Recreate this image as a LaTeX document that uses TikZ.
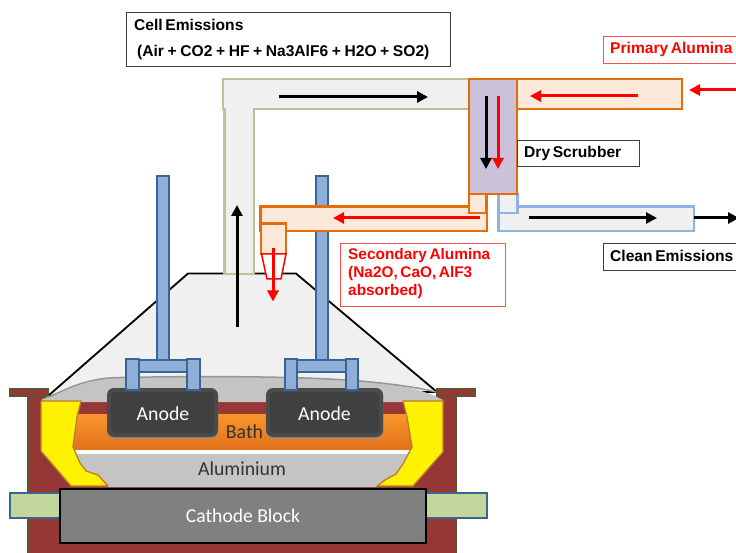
\documentclass[tikz,border=0pt]{standalone}
\usepackage{fontspec}
\setmainfont[WordSpace=0.6]{Liberation Sans}
\newfontfamily\calib{Carlito}
\usetikzlibrary{arrows.meta,shadings}
\definecolor{wallred}{HTML}{953735}
\definecolor{wallline}{HTML}{5F5230}
\definecolor{hoodfill}{HTML}{F0F0F0}
\definecolor{crustgray}{HTML}{C4C4C4}
\definecolor{crustline}{HTML}{969696}
\definecolor{rodblue}{HTML}{8FAFD8}
\definecolor{rodline}{HTML}{3A6396}
\definecolor{collgreen}{HTML}{C3D69B}
\definecolor{ductorange}{HTML}{E46C0A}
\definecolor{ductpeach}{HTML}{FDE9D9}
\definecolor{ductbeige}{HTML}{C4BD97}
\definecolor{ductblue}{HTML}{8DB3E2}
\definecolor{scrubfill}{HTML}{CCC1DA}
\definecolor{yellowline}{HTML}{C07A30}
\definecolor{labelred}{HTML}{FF5050}
\definecolor{bathtop}{HTML}{F9962C}
\definecolor{bathbot}{HTML}{E1701A}
\tikzset{
  x=1pt,y=-1pt,
  wallshape/.style={fill=wallred,draw=wallline,line width=1.6pt},
  rod/.style={fill=rodblue,draw=rodline,line width=2pt},
  collector/.style={fill=collgreen,draw=rodline,line width=1.8pt},
  frozen/.style={fill=yellow,draw=yellowline,line width=1.3pt,line join=round},
  ductB/.style={fill=hoodfill,draw=ductbeige,line width=2.2pt},
  ductO/.style={fill=ductpeach,draw=ductorange,line width=2.2pt},
  ductL/.style={fill=hoodfill,draw=ductblue,line width=2.2pt},
  flowK/.style={draw=black,line width=3pt,-{Triangle[length=11pt,width=11pt]}},
  flowR/.style={draw=red,line width=3pt,-{Triangle[length=11pt,width=11pt]}},
  txt/.style={anchor=west,inner sep=0pt,font=\bfseries\fontsize{15.6}{18}\selectfont},
  blackbox/.style={draw=black!75,line width=.9pt,fill=white,anchor=north west,inner sep=0pt},
  redbox/.style={draw=labelred,line width=.9pt,fill=white,anchor=north west,inner sep=0pt},
  lay/.style={text=black!80,font=\calib\fontsize{19.8}{22}\selectfont},
  anodetxt/.style={text=white,font=\calib\fontsize{19.8}{22}\selectfont},
}
\begin{document}
\begin{tikzpicture}
\useasboundingbox (0,0) rectangle (736,553);
% hood
\draw[fill=hoodfill,draw=black,line width=1.8pt] (48,396) -- (188,273.5) -- (296,273.5) -- (437,392) -- cycle;
% cell wall
\path[wallshape] (28,553) -- (28,396) -- (48,396) -- (48,400) -- (437,400) -- (437,396) -- (456,396) -- (456,553);
\draw[wallshape] (10,389) rectangle (48,396);
\draw[wallshape] (437,389) rectangle (475,396);
% collectors
\draw[collector] (10,493) rectangle (60,518);
\draw[collector] (426,493) rectangle (487,518);
% crust
\draw[fill=crustgray,draw=none] (42,399) .. controls (60,396) and (80,378) .. (120,377.5) .. controls (200,376) and (300,376) .. (360,381) .. controls (395,384) and (420,388) .. (443,400) -- (443,402) -- (42,402) -- cycle;
\draw[crustline,line width=1.5pt] (46,397.5) .. controls (62,393) and (80,378) .. (120,377.5) .. controls (200,376) and (300,376) .. (360,381) .. controls (395,384) and (420,388) .. (436,392);
% bath
\shade[top color=bathtop,bottom color=bathbot] (74,414) rectangle (411,450);
\fill[white] (73,450) rectangle (412,454);
% aluminium
\fill[crustgray] (74,454) -- (411,454) -- (405,463) -- (396,474) -- (384,480) -- (376,487) -- (108,487) -- (100,478) -- (88,472) -- (80,465) -- cycle;
% frozen ledges
\draw[frozen] (41,401) -- (81,401) -- (77,417) -- (73,447) -- (80,463) -- (86,471) -- (98,475) -- (108,486) -- (71,486) -- (41,451) -- cycle;
\draw[frozen] (403,401) -- (443,401) -- (443,452) -- (413,486) -- (377,486) -- (385,480) -- (396,474) -- (403,464) -- (412,447) -- (407,417) -- cycle;
% cathode
\node[draw=black,line width=2pt,fill=black!50,minimum width=366pt,minimum height=54pt,inner sep=0pt,anchor=north west,text=white,font=\calib\fontsize{19.6}{22}\selectfont] (cathode) at (59,487.5) {Cathode Block};
\node[lay] (alu) at (242,469) {Aluminium};
\node[lay] (bath) at (244.5,432) {Bath};
% anodes
\foreach \n/\xa/\xb in {A/107/218,B/266/383}{
  \fill[black!45,rounded corners=7pt] (\xa,389) rectangle (\xb,438.5);
  \fill[black!71,rounded corners=7pt] (\xa,388) rectangle (\xb,437);
  \fill[black!75,rounded corners=4pt] (\xa+4,392) rectangle (\xb-4,433);
}
\node[anodetxt] (anodeA) at (163,414) {Anode};
\node[anodetxt] (anodeB) at (324.5,414) {Anode};
% rods and yokes
\draw[rod] (156.5,176.5) rectangle (169,360);
\draw[rod] (316,176.5) rectangle (328,360);
\foreach \a/\b in {126/199.5,284.5/358}{
  \draw[rod] (\a+6,360) rectangle (\b-6,372);
  \draw[rod] (\a,359) rectangle (\a+12.5,390);
  \draw[rod] (\b-12.5,359) rectangle (\b,390);
}
% beige duct
\draw[ductB] (224.5,109) rectangle (254,274);
\draw[ductB] (223,79) rectangle (469,109);
\fill[hoodfill] (226,106) rectangle (253,112);
% blue duct
\draw[ductL] (498.5,206.5) rectangle (694,231);
\draw[ductL] (498.5,194) rectangle (517.5,213);
% orange ducts
\draw[ductO] (517,79) rectangle (682,109);
\draw[ductO] (260.5,206.5) rectangle (487,231);
\draw[ductO] (469,194) rectangle (486.5,213);
\draw[ductO] (261,223.5) rectangle (286,254);
\draw[draw=ductorange,line width=2.2pt,fill=scrubfill] (469,79) rectangle (517,194);
% nozzle
\draw[draw=red,line width=1.5pt,fill=white] (261.5,254) -- (286,254) -- (281,279) -- (267,279) -- cycle;
% flow arrows
\draw[flowK] (237,327) -- (237,205);
\draw[flowK] (279,97) -- (428,97);
\draw[flowK] (486,96) -- (486,169);
\draw[flowR] (498,96) -- (498,169);
\draw[flowR] (638,96) -- (530,96);
\draw[flowR] (736,90) -- (689,90);
\draw[flowR] (480,218) -- (333,218);
\draw[flowR] (273,248) -- (273,301.5);
\draw[flowK] (529,218) -- (657,218);
\draw[flowK] (694,218) -- (739,218);
% labels
\node[blackbox,minimum width=324pt,minimum height=54pt] (cellbox) at (126,12) {};
\node[txt] (cell1) at (134,25) {Cell Emissions};
\node[txt] (cell2) at (137,52) {\spaceskip=3.6pt (Air + CO2 + HF + Na3AlF6 + H2O + SO2)};
\node[redbox,minimum width=134pt,minimum height=27pt] (primbox) at (603,36) {};
\node[txt,text=red] (prim) at (610,49) {Primary Alumina};
\node[blackbox,minimum width=122pt,minimum height=26pt] (drybox) at (517,140) {};
\node[txt] (dry) at (524,153) {Dry Scrubber};
\node[blackbox,minimum width=134pt,minimum height=27pt] (cleanbox) at (603,243) {};
\node[txt] (clean) at (610,256) {Clean Emissions};
\node[redbox,minimum width=165pt,minimum height=63pt] (secbox) at (340,243) {};
\node[anchor=north west,inner sep=0pt,align=left,text=red,font=\bfseries\fontsize{15.4}{18}\selectfont] (sec) at (348,248.5) {Secondary Alumina\\(Na2O, CaO, AlF3\\absorbed)};
\end{tikzpicture}
\end{document}
